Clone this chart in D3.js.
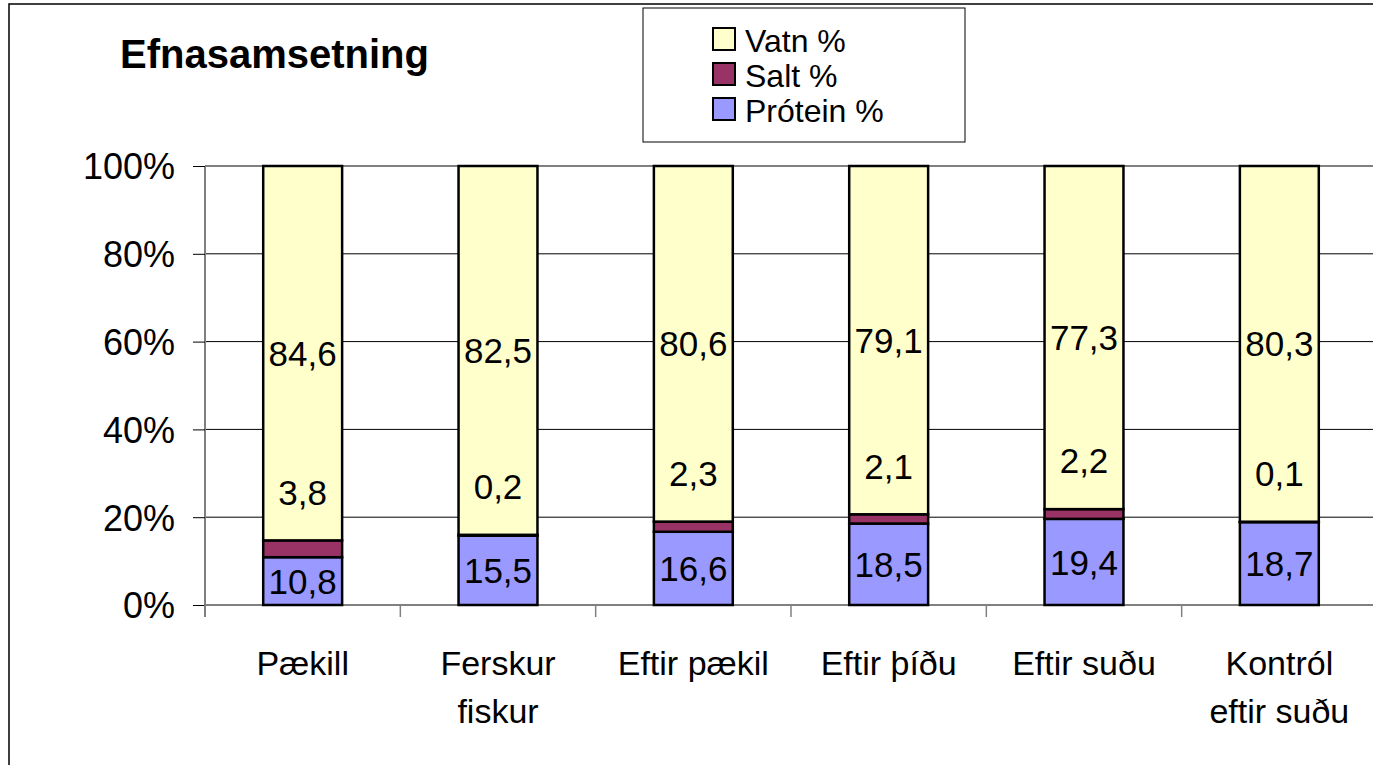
<!DOCTYPE html>
<html>
<head>
<meta charset="utf-8">
<script src="https://cdn.jsdelivr.net/npm/d3@7"></script>
<style>
  body { margin: 0; background: #fff; }
  text { font-family: Arial, "Liberation Sans", sans-serif; fill: #000; }
</style>
</head>
<body>
<div id="vis"></div>
<script>
// data
const categories = [["Pækill"], ["Ferskur", "fiskur"], ["Eftir pækil"], ["Eftir þíðu"], ["Eftir suðu"], ["Kontról", "eftir suðu"]];
const protein = [10.8, 15.5, 16.6, 18.5, 19.4, 18.7];
const salt = [3.8, 0.2, 2.3, 2.1, 2.2, 0.1];
const vatn = [84.6, 82.5, 80.6, 79.1, 77.3, 80.3];
const seriesKeys = ["protein", "salt", "vatn"];
const seriesNames = { protein: "Prótein %", salt: "Salt %", vatn: "Vatn %" };
const yTicks = [0, 0.2, 0.4, 0.6, 0.8, 1];

const COLORS = { protein: "#9999FF", salt: "#993366", vatn: "#FFFFCC" };
const W = 1373, H = 765;
const PLOT = { left: 205, right: 1377, top: 166, bottom: 605 };
const BAR_FRAC = 0.404;
const SALT_LABEL_LIFT = 0.11;

const rows = categories.map((c, i) => ({ cat: c.join(" "), lines: c, protein: protein[i], salt: salt[i], vatn: vatn[i] }));

const svg = d3.select("#vis").append("svg").attr("width", W).attr("height", H);

// outer frame
svg.append("rect").attr("x", 9).attr("y", 4).attr("width", W + 20).attr("height", H + 20)
  .attr("fill", "none").attr("stroke", "#000").attr("stroke-width", 1.5);

const x = d3.scaleBand().domain(rows.map(d => d.cat)).range([PLOT.left, PLOT.right]).padding(0);
const y = d3.scaleLinear().domain([0, 1]).range([PLOT.bottom, PLOT.top]);

const stack = d3.stack().keys(seriesKeys).offset(d3.stackOffsetExpand);
const series = stack(rows);

// gridlines
svg.append("g").selectAll("line").data(yTicks.filter(t => t > 0)).join("line")
  .attr("x1", PLOT.left).attr("x2", W)
  .attr("y1", d => y(d)).attr("y2", d => y(d))
  .attr("stroke", d => d === 1 ? "#808080" : "#000")
  .attr("stroke-width", d => d === 1 ? 2 : 1);

// y axis
const yAxis = svg.append("g").attr("transform", `translate(${PLOT.left},0)`)
  .call(d3.axisLeft(y).tickValues(yTicks).tickFormat(d3.format(".0%")).tickSize(12).tickPadding(18));
yAxis.select(".domain").attr("stroke", "#808080").attr("stroke-width", 2)
  .attr("d", `M0,${PLOT.top}V${PLOT.bottom + 12}`);
yAxis.selectAll(".tick line").attr("stroke", "#000");
yAxis.selectAll(".tick text").attr("font-size", 36).attr("dy", "0.36em")
  .style("font-family", "Arial, 'Liberation Sans', sans-serif");

// x axis
const xAxis = svg.append("g").attr("transform", `translate(0,${PLOT.bottom})`);
xAxis.append("line").attr("x1", PLOT.left).attr("x2", W).attr("y1", 0).attr("y2", 0)
  .attr("stroke", "#808080").attr("stroke-width", 2);
xAxis.selectAll("line.tk").data(rows).join("line").attr("class", "tk")
  .attr("x1", d => x(d.cat)).attr("x2", d => x(d.cat)).attr("y1", 0).attr("y2", 12)
  .attr("stroke", "#808080").attr("stroke-width", 1.5);
xAxis.selectAll("text").data(rows).join("text")
  .attr("text-anchor", "middle").attr("font-size", 34)
  .attr("x", d => x(d.cat) + x.bandwidth() / 2)
  .attr("y", 70)
  .each(function (d) {
    d3.select(this).selectAll("tspan").data(d.lines).join("tspan")
      .attr("x", x(d.cat) + x.bandwidth() / 2)
      .attr("dy", (l, i) => i === 0 ? 0 : 48)
      .text(l => l);
  });

// bars
const bw = x.bandwidth() * BAR_FRAC;
const bx = d => x(d.data.cat) + (x.bandwidth() - bw) / 2;
svg.append("g").selectAll("g").data(series).join("g")
  .attr("fill", s => COLORS[s.key])
  .selectAll("rect").data(s => s).join("rect")
  .attr("x", bx).attr("width", bw)
  .attr("y", d => y(d[1])).attr("height", d => y(d[0]) - y(d[1]))
  .attr("stroke", "#000").attr("stroke-width", 2.5);

// labels
const fmt = v => String(v).replace(".", ",");
const labels = svg.append("g").attr("font-size", 35).attr("text-anchor", "middle");
series.forEach(s => {
  labels.selectAll("text." + s.key).data(s).join("text").attr("class", s.key)
    .attr("x", d => x(d.data.cat) + x.bandwidth() / 2)
    .attr("y", d => s.key === "salt" ? y(d[1] + SALT_LABEL_LIFT) : y((d[0] + d[1]) / 2))
    .attr("dy", "0.36em")
    .text(d => fmt(d.data[s.key]));
});

// title
svg.append("text").attr("x", 120).attr("y", 68).attr("font-size", 40).attr("font-weight", "bold")
  .text("Efnasamsetning");

// legend
const legend = svg.append("g");
legend.append("rect").attr("x", 643).attr("y", 8).attr("width", 322).attr("height", 134)
  .attr("fill", "#fff").attr("stroke", "#000").attr("stroke-width", 1);
const legItems = ["vatn", "salt", "protein"];
const li = legend.selectAll("g.item").data(legItems).join("g").attr("class", "item")
  .attr("transform", (d, i) => `translate(713,${28 + i * 35})`);
li.append("rect").attr("width", 22).attr("height", 22).attr("fill", d => COLORS[d])
  .attr("stroke", "#000").attr("stroke-width", 2);
li.append("text").attr("x", 32).attr("y", 12).attr("dy", "0.36em").attr("font-size", 32)
  .text(d => seriesNames[d]);
</script>
</body>
</html>
